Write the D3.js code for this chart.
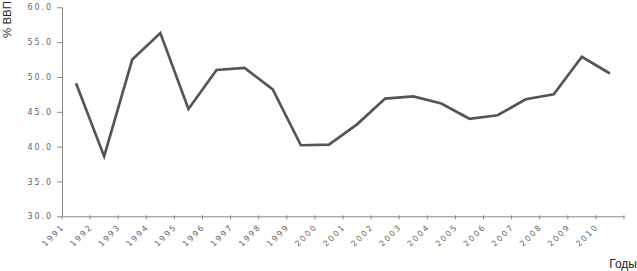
<!DOCTYPE html>
<html lang="ru">
<head>
<meta charset="UTF-8">
<script src="https://cdn.jsdelivr.net/npm/d3@7"></script>
<style>
    body { margin: 0; background: white; }
    .tick-label { font-family: "DejaVu Sans", sans-serif; font-size: 8px; fill: #666; letter-spacing: 1.9px; }
    .title { font-family: "Liberation Sans", Arial, sans-serif; font-size: 12px; fill: #222; }
</style>
</head>
<body>
<div id="chart"></div>
<script>
    const years = ["1991", "1992", "1993", "1994", "1995", "1996", "1997", "1998", "1999", "2000",
                   "2001", "2002", "2003", "2004", "2005", "2006", "2007", "2008", "2009", "2010"];
    const values = [49.1, 38.6, 52.5, 56.3, 45.4, 51.0, 51.3, 48.2, 40.2, 40.3,
                    43.2, 46.9, 47.2, 46.2, 44.0, 44.5, 46.8, 47.5, 52.9, 50.5];
    const yTicks = [30, 35, 40, 45, 50, 55, 60];

    const width = 637, height = 271;
    const plot = { left: 62, right: 624, top: 7.3, bottom: 216.3 };

    const svg = d3.select("#chart").append("svg")
        .attr("width", width)
        .attr("height", height);

    const x = d3.scaleBand().domain(years).range([plot.left, plot.right]);
    const y = d3.scaleLinear().domain([30, 60]).range([plot.bottom, plot.top]);

    // y axis
    const yAxis = svg.append("g")
        .attr("transform", `translate(${plot.left},0)`)
        .call(d3.axisLeft(y).tickValues(yTicks).tickSize(5).tickSizeOuter(0)
            .tickPadding(4).tickFormat(d3.format(".1f")));
    yAxis.select(".domain").attr("stroke", "#888");
    yAxis.selectAll(".tick line").attr("stroke", "#888");
    yAxis.selectAll(".tick text").attr("class", "tick-label");

    // x axis (ticks sit on the band edges)
    const xAxis = svg.append("g")
        .attr("transform", `translate(0,${plot.bottom})`)
        .call(d3.axisBottom(x).tickSize(0).tickSizeOuter(0).tickFormat(""));
    xAxis.select(".domain").attr("stroke", "#888");

    const edges = years.map(d => x(d)).concat([x.range()[1]]);
    svg.append("g").selectAll("line")
        .data(edges)
        .enter()
        .append("line")
        .attr("x1", d => d).attr("x2", d => d)
        .attr("y1", plot.bottom - 1).attr("y2", plot.bottom + 3)
        .attr("stroke", "#888");

    svg.append("g").selectAll("text")
        .data(years)
        .enter()
        .append("text")
        .attr("class", "tick-label")
        .attr("text-anchor", "end")
        .attr("transform", d => `translate(${x(d) + x.bandwidth() / 2 - 11},${plot.bottom + 11}) rotate(-45)`)
        .text(d => d);

    // line
    const line = d3.line()
        .x((d, i) => x(years[i]) + x.bandwidth() / 2)
        .y(d => y(d));

    svg.append("path")
        .datum(values)
        .attr("fill", "none")
        .attr("stroke", "#555")
        .attr("stroke-width", 2.7)
        .attr("stroke-linejoin", "miter")
        .attr("d", line);

    // titles
    svg.append("text")
        .attr("class", "title")
        .style("font-size", "11.5px")
        .attr("transform", "translate(10.5,38) rotate(-90)")
        .text("% ВВП");

    svg.append("text")
        .attr("class", "title")
        .attr("text-anchor", "end")
        .attr("x", 637)
        .attr("y", 268)
        .text("Годы");
</script>
</body>
</html>
